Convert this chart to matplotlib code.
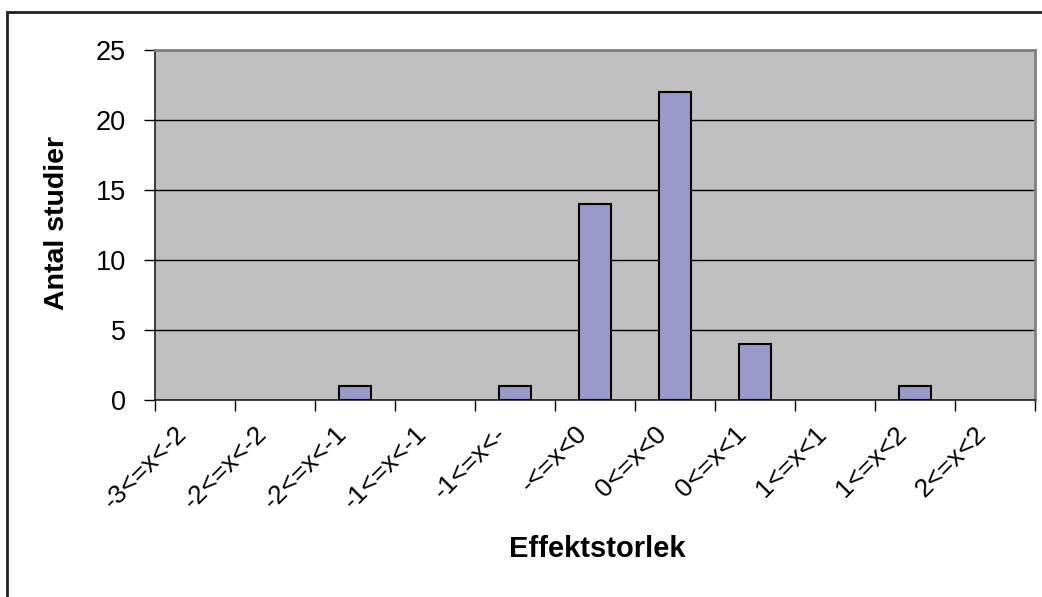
import numpy as np
import matplotlib
matplotlib.use("Agg")
import matplotlib.pyplot as plt
from matplotlib.patches import Rectangle
import matplotlib.transforms as mtransforms

categories = ["-3<=x<-2", "-2<=x<-2", "-2<=x<-1", "-1<=x<-1", "-1<=x<-",
              "-<=x<0", "0<=x<0", "0<=x<1", "1<=x<1", "1<=x<2", "2<=x<2"]
counts = [0, 0, 1, 0, 1, 14, 22, 4, 0, 1, 0]
y_ticks = [0, 5, 10, 15, 20, 25]

plt.rcParams["font.family"] = ["Liberation Sans", "DejaVu Sans"]

fig = plt.figure(figsize=(10.42, 5.97), dpi=100)
ax = fig.add_axes([155 / 1042, 197 / 597, 880 / 1042, 350 / 597])
ax.set_facecolor("#c0c0c0")

x = np.arange(len(categories))
# empty bins get no outline so the baseline stays clean
edge_w = [1.5 if c > 0 else 0 for c in counts]
ax.bar(x, counts, width=0.4, color="#9999cc", edgecolor="black",
       linewidth=edge_w, zorder=3)

ax.set_xlim(-0.5, len(categories) - 0.5)
ax.set_ylim(0, 25)
ax.set_yticks(y_ticks)
ax.yaxis.grid(True, color="black", linewidth=1.0, zorder=1)
ax.set_axisbelow(True)

# category ticks sit between bars; labels are placed at bar centres
ax.set_xticks(np.arange(len(categories) + 1) - 0.5)
ax.set_xticklabels([])
ax.tick_params(axis="x", length=8, width=1, color="black")
ax.tick_params(axis="y", length=8, width=1, labelsize=19.5, pad=13)

offset = mtransforms.ScaledTranslation(-12 / 100, -30 / 100, fig.dpi_scale_trans)
label_tf = ax.get_xaxis_transform() + offset
for xi, cat in zip(x, categories):
    ax.text(xi, 0, cat, transform=label_tf, rotation=45, ha="right",
            va="center", rotation_mode="anchor", fontsize=19, clip_on=False)

for side in ("top", "right"):
    ax.spines[side].set_color("#808080")
    ax.spines[side].set_linewidth(2)
for side in ("left", "bottom"):
    ax.spines[side].set_color("#202020")
    ax.spines[side].set_linewidth(1.2)

fig.text(57 / 1042, 1 - 223 / 597, "Antal studier", fontsize=20.5,
         fontweight="bold", rotation=90, ha="center", va="center")
fig.text(597 / 1042, 1 - 549 / 597, "Effektstorlek", fontsize=21,
         fontweight="bold", ha="center", va="center")

# outer chart frame
fig.patches.append(Rectangle((7 / 1042, -0.01), 1.05, 0.99 - 6 / 597 + 0.01,
                             transform=fig.transFigure, fill=False,
                             edgecolor="#202020", linewidth=2))

fig.savefig("out.png", dpi=100)
